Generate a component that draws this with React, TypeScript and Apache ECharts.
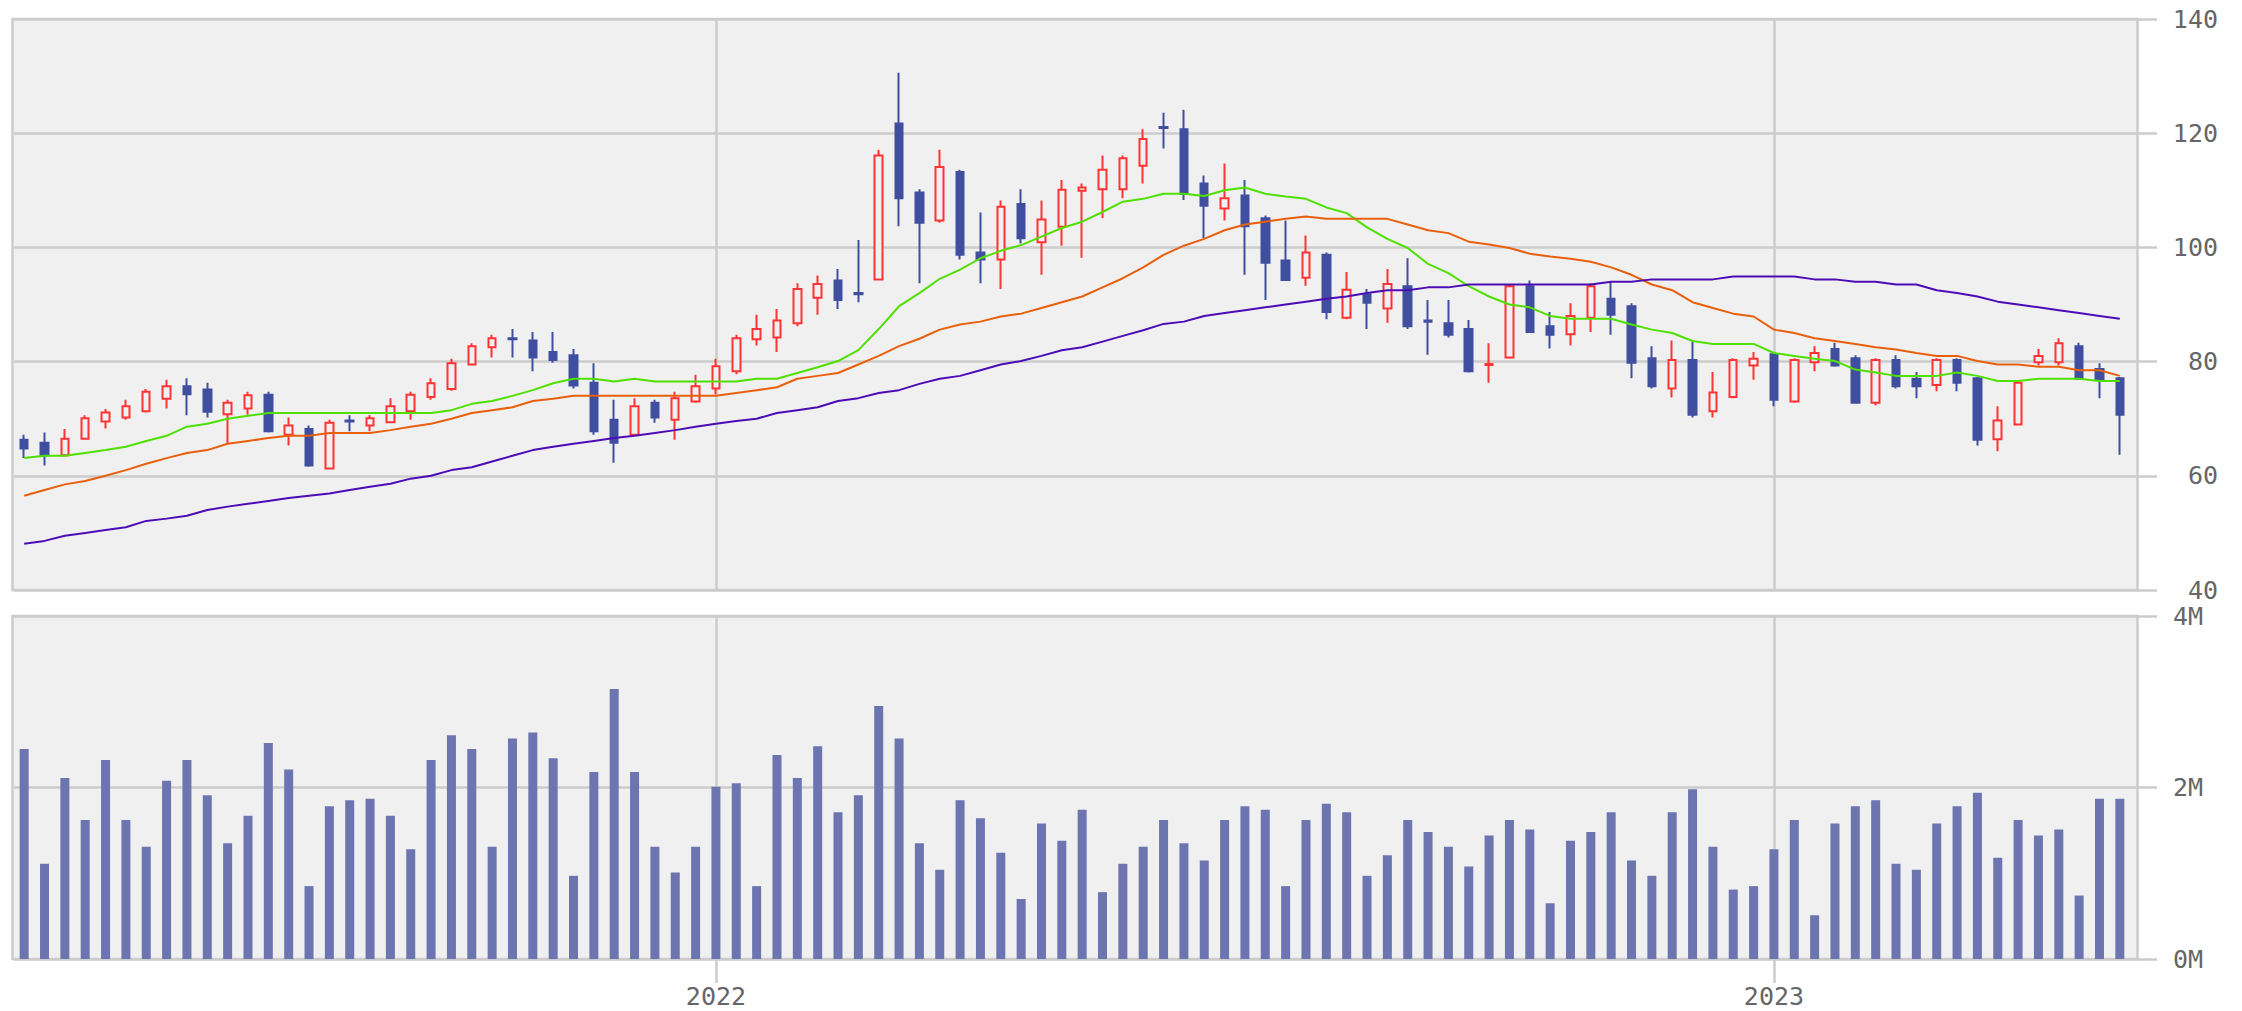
import React, { useEffect, useRef } from "react";
import * as echarts from "echarts";

// Weekly candles, 104 weeks starting 2021-05-10 (week of 2022-01-03 is index 34)
const START_MS = Date.UTC(2021, 4, 10);
const WEEK_MS = 7 * 24 * 3600 * 1000;
const weeks: string[] = Array.from({ length: 104 }, (_, i) =>
  new Date(START_MS + i * WEEK_MS).toISOString().slice(0, 10)
);
const yearMarks = ["2022-01-03", "2023-01-02"];

const opens = [
  66.3, 65.8, 63.6, 66.5, 69.5, 70.2, 71.3, 73.5, 75.7, 75.1,
  70.8, 71.8, 74.2, 67.2, 68.2, 61.3, 69.7, 68.8, 69.4, 71.3,
  73.8, 75.2, 79.5, 82.5, 84.1, 83.7, 81.7, 81.1, 76.3, 69.8,
  67.2, 72.8, 69.8, 73.0, 75.3, 78.3, 83.9, 84.2, 86.7, 91.2,
  94.2, 92.0, 94.4, 121.7, 109.6, 104.7, 113.2, 99.1, 97.9, 107.6,
  100.9, 103.6, 109.9, 110.2, 110.2, 114.3, 121.1, 120.7, 111.2, 106.8,
  109.1, 105.1, 97.7, 94.7, 98.7, 87.7, 91.8, 89.3, 93.2, 87.2,
  86.7, 85.7, 79.4, 80.7, 93.2, 86.2, 84.8, 87.7, 91.0, 89.7,
  80.6, 75.3, 80.3, 71.3, 73.8, 79.3, 81.3, 73.0, 79.9, 82.2,
  80.6, 72.8, 80.3, 77.0, 75.9, 80.3, 77.1, 66.4, 69.0, 79.9,
  79.9, 82.7, 78.7, 77.1,
];
const closes = [
  64.8, 63.6, 66.5, 70.1, 71.1, 72.2, 74.7, 75.7, 74.3, 71.2,
  72.8, 74.1, 67.8, 68.8, 61.8, 69.3, 69.5, 70.1, 72.2, 74.2,
  76.2, 79.7, 82.7, 84.1, 83.9, 80.7, 80.3, 75.8, 67.8, 65.8,
  72.2, 70.2, 73.6, 75.7, 79.2, 84.1, 85.7, 87.2, 92.7, 93.6,
  90.8, 91.8, 116.1, 108.6, 104.3, 114.1, 98.7, 97.9, 107.1, 101.6,
  104.9, 110.1, 110.5, 113.6, 115.6, 119.0, 120.9, 109.4, 107.3, 108.6,
  103.7, 97.3, 94.3, 99.1, 88.7, 92.6, 90.3, 93.6, 86.2, 87.0,
  84.7, 78.3, 79.6, 93.2, 85.2, 84.7, 88.0, 93.2, 88.2, 79.8,
  75.7, 80.3, 70.7, 74.6, 80.3, 80.5, 73.3, 80.3, 81.5, 79.3,
  72.8, 80.3, 75.7, 75.7, 80.3, 76.3, 66.3, 69.7, 76.3, 81.0,
  83.2, 77.0, 76.8, 70.7,
];
const lows = [
  63.1, 61.8, 63.4, 66.3, 68.3, 69.8, 71.1, 71.8, 70.6, 70.2,
  65.6, 70.7, 67.6, 65.3, 61.6, 61.1, 67.8, 67.8, 69.2, 69.8,
  73.3, 74.9, 79.3, 80.7, 80.7, 78.3, 79.8, 75.3, 67.2, 62.3,
  67.0, 69.3, 66.3, 72.8, 74.3, 77.8, 82.8, 81.7, 86.2, 88.2,
  89.2, 90.4, 94.2, 103.7, 93.7, 104.3, 97.9, 93.7, 92.7, 100.7,
  95.2, 100.3, 98.2, 105.1, 108.6, 111.2, 117.3, 108.3, 101.6, 104.7,
  95.2, 90.8, 94.1, 93.3, 87.4, 87.4, 85.7, 86.8, 85.7, 81.2,
  84.2, 78.1, 76.3, 80.5, 85.0, 82.3, 82.8, 85.2, 84.7, 77.1,
  75.3, 73.7, 70.2, 70.2, 73.6, 76.8, 72.2, 72.8, 78.3, 79.1,
  72.6, 72.3, 75.3, 73.6, 74.8, 74.8, 65.3, 64.3, 68.8, 79.3,
  79.3, 76.8, 73.6, 63.7,
];
const highs = [
  67.2, 67.6, 68.2, 70.6, 71.7, 73.3, 75.2, 76.8, 77.1, 76.3,
  73.3, 74.7, 74.7, 70.2, 68.8, 69.8, 70.6, 70.6, 73.6, 74.7,
  77.1, 80.5, 83.2, 84.7, 85.7, 85.2, 85.2, 82.2, 79.7, 73.3,
  73.6, 73.3, 74.7, 77.7, 80.5, 84.7, 88.2, 89.2, 93.7, 95.1,
  96.2, 101.3, 117.1, 130.6, 110.2, 117.1, 113.6, 106.1, 108.2, 110.2,
  108.2, 111.8, 111.2, 116.1, 116.1, 120.7, 123.6, 124.1, 112.6, 114.7,
  111.8, 105.6, 104.7, 102.1, 99.1, 95.7, 92.7, 96.2, 98.1, 90.8,
  90.8, 87.3, 83.2, 93.4, 94.2, 88.7, 90.2, 93.7, 94.0, 90.2,
  82.7, 83.7, 83.7, 78.2, 80.6, 81.7, 81.5, 80.6, 82.7, 83.3,
  81.1, 80.6, 81.1, 78.2, 80.6, 80.6, 77.3, 72.2, 76.5, 82.2,
  84.1, 83.3, 79.7, 77.3,
];

// Moving averages
const maShort = [
  63.1, 63.5, 63.5, 64.0, 64.5, 65.1, 66.1, 67.0, 68.6, 69.1,
  70.0, 70.5, 71.0, 71.0, 71.0, 71.0, 71.0, 71.0, 71.0, 71.0,
  71.0, 71.5, 72.6, 73.1, 74.0, 75.0, 76.2, 77.0, 77.0, 76.5,
  77.0, 76.5, 76.5, 76.5, 76.5, 76.5, 77.0, 77.0, 78.0, 79.0,
  80.1, 82.0, 85.7, 89.7, 92.0, 94.5, 96.1, 98.1, 99.4, 100.4,
  101.9, 103.4, 104.5, 106.2, 108.0, 108.5, 109.4, 109.4, 109.0, 110.0,
  110.5, 109.4, 108.9, 108.5, 107.0, 106.0, 103.5, 101.5, 99.9, 97.1,
  95.5, 93.2, 91.4, 90.0, 89.5, 88.0, 87.5, 87.5, 87.5, 86.5,
  85.6, 85.0, 83.6, 83.1, 83.1, 83.1, 81.5, 81.0, 80.5, 80.1,
  78.6, 78.1, 77.5, 77.5, 77.5, 78.1, 77.5, 76.6, 76.6, 77.0,
  77.0, 77.0, 76.6, 76.6,
];
const maMid = [
  56.5, 57.5, 58.5, 59.1, 60.0, 61.0, 62.1, 63.1, 64.0, 64.5,
  65.6, 66.1, 66.6, 67.0, 67.0, 67.5, 67.5, 67.5, 68.0, 68.6,
  69.1, 70.0, 71.0, 71.5, 72.0, 73.1, 73.5, 74.0, 74.0, 74.0,
  74.0, 74.0, 74.0, 74.0, 74.0, 74.5, 75.0, 75.5, 77.0, 77.5,
  78.0, 79.5, 81.0, 82.7, 84.0, 85.6, 86.5, 87.0, 87.9, 88.4,
  89.4, 90.4, 91.4, 93.0, 94.6, 96.5, 98.7, 100.3, 101.5, 103.0,
  104.0, 104.5, 105.0, 105.4, 105.0, 105.0, 105.0, 105.0, 104.0, 103.0,
  102.5, 101.0, 100.5, 99.9, 98.9, 98.4, 98.0, 97.5, 96.5, 95.2,
  93.5, 92.5, 90.4, 89.4, 88.4, 87.9, 85.6, 85.0, 84.1, 83.6,
  83.1, 82.5, 82.1, 81.5, 81.0, 81.0, 80.1, 79.5, 79.5, 79.1,
  79.1, 78.5, 78.5, 77.5,
];
const maLong = [
  48.1, 48.6, 49.5, 50.0, 50.5, 51.0, 52.1, 52.5, 53.0, 54.0,
  54.6, 55.1, 55.6, 56.1, 56.5, 56.9, 57.5, 58.1, 58.6, 59.5,
  60.0, 61.0, 61.5, 62.5, 63.5, 64.5, 65.1, 65.6, 66.1, 66.6,
  67.0, 67.5, 68.0, 68.6, 69.1, 69.6, 70.0, 71.0, 71.5, 72.0,
  73.1, 73.6, 74.5, 75.0, 76.1, 77.0, 77.5, 78.5, 79.5, 80.1,
  81.0, 82.0, 82.5, 83.5, 84.5, 85.5, 86.6, 87.0, 88.0, 88.5,
  89.0, 89.5, 90.0, 90.5, 91.0, 91.4, 92.0, 92.5, 92.5, 93.0,
  93.0, 93.5, 93.5, 93.5, 93.5, 93.5, 93.5, 93.5, 94.0, 94.0,
  94.4, 94.4, 94.4, 94.4, 94.9, 94.9, 94.9, 94.9, 94.4, 94.4,
  94.0, 94.0, 93.5, 93.5, 92.5, 92.0, 91.4, 90.5, 90.0, 89.5,
  89.0, 88.5, 88.0, 87.5,
];

// Weekly volume in millions
const volumes = [
  2.45, 1.11, 2.11, 1.62, 2.32, 1.62, 1.31, 2.08, 2.32, 1.91,
  1.35, 1.67, 2.52, 2.21, 0.85, 1.78, 1.85, 1.87, 1.67, 1.28,
  2.32, 2.61, 2.45, 1.31, 2.57, 2.64, 2.34, 0.97, 2.18, 3.15,
  2.18, 1.31, 1.01, 1.31, 2.01, 2.05, 0.85, 2.38, 2.11, 2.48,
  1.71, 1.91, 2.95, 2.57, 1.35, 1.04, 1.85, 1.64, 1.24, 0.70,
  1.58, 1.38, 1.74, 0.78, 1.11, 1.31, 1.62, 1.35, 1.15, 1.62,
  1.78, 1.74, 0.85, 1.62, 1.81, 1.71, 0.97, 1.21, 1.62, 1.48,
  1.31, 1.08, 1.44, 1.62, 1.51, 0.65, 1.38, 1.48, 1.71, 1.15,
  0.97, 1.71, 1.98, 1.31, 0.81, 0.85, 1.28, 1.62, 0.51, 1.58,
  1.78, 1.85, 1.11, 1.04, 1.58, 1.78, 1.94, 1.18, 1.62, 1.44,
  1.51, 0.74, 1.87, 1.87,
];

const FONT = "'DejaVu Sans Mono', 'Liberation Mono', monospace";
const GRID_COLOR = "#cccccc";
const TEXT_COLOR = "#666666";

export default function App() {
  const ref = useRef<HTMLDivElement>(null);

  useEffect(() => {
    if (!ref.current) return;
    const chart = echarts.init(ref.current, null, { renderer: "svg" });

    const candleData = opens.map((o, i) => [o, closes[i], lows[i], highs[i]]);
    const isYear = (_i: number, v: string) => yearMarks.indexOf(v) >= 0;

    const vLines = {
      silent: true,
      symbol: ["none", "none"],
      z: 1,
      label: { show: false },
      emphasis: { disabled: true },
      lineStyle: { color: GRID_COLOR, width: 2.5, type: "solid" },
      data: yearMarks.map((d) => ({ xAxis: d })),
    };

    const lineSeries = (data: number[], color: string) => ({
      type: "line",
      xAxisIndex: 0,
      yAxisIndex: 0,
      data,
      showSymbol: false,
      symbol: "none",
      silent: true,
      lineStyle: { color, width: 2 },
      z: 3,
    });

    const panelStyle = { fill: "#f0f0f0", stroke: GRID_COLOR, lineWidth: 2.5 };
    const labelBase = {
      color: TEXT_COLOR,
      fontFamily: FONT,
      fontSize: 25,
      lineHeight: 25,
    };

    chart.setOption({
      animation: false,
      backgroundColor: "#ffffff",
      graphic: [
        { type: "rect", z: -1, silent: true, shape: { x: 12.5, y: 19, width: 2125, height: 571 }, style: panelStyle },
        { type: "rect", z: -1, silent: true, shape: { x: 12.5, y: 616, width: 2125, height: 343 }, style: panelStyle },
      ],
      grid: [
        { left: 14, top: 19, width: 2116, height: 571 },
        { left: 14, top: 616, width: 2116, height: 343 },
      ],
      xAxis: [
        {
          type: "category",
          gridIndex: 0,
          data: weeks,
          axisLine: { show: false },
          axisTick: { show: false },
          axisLabel: { show: false },
          splitLine: { show: false },
        },
        {
          type: "category",
          gridIndex: 1,
          data: weeks,
          axisLine: { show: false },
          axisTick: {
            show: true,
            alignWithLabel: true,
            interval: isYear,
            length: 24,
            lineStyle: { color: GRID_COLOR, width: 2.5 },
          },
          axisLabel: {
            ...labelBase,
            interval: isYear,
            formatter: (v: string) => v.slice(0, 4),
            margin: 25,
          },
          splitLine: { show: false },
        },
      ],
      yAxis: [
        {
          type: "value",
          gridIndex: 0,
          position: "right",
          min: 40,
          max: 140,
          interval: 20,
          axisLine: { show: false },
          axisTick: { show: true, length: 27, lineStyle: { color: GRID_COLOR, width: 2.5 } },
          splitLine: { show: true, lineStyle: { color: GRID_COLOR, width: 2.5 } },
          axisLabel: { ...labelBase, margin: 88, align: "right" },
        },
        {
          type: "value",
          gridIndex: 1,
          position: "right",
          min: 0,
          max: 4,
          interval: 2,
          axisLine: { show: false },
          axisTick: { show: true, length: 27, lineStyle: { color: GRID_COLOR, width: 2.5 } },
          splitLine: { show: true, lineStyle: { color: GRID_COLOR, width: 2.5 } },
          axisLabel: {
            ...labelBase,
            margin: 73,
            align: "right",
            formatter: (v: number) => `${v}M`,
          },
        },
      ],
      series: [
        {
          type: "candlestick",
          xAxisIndex: 0,
          yAxisIndex: 0,
          data: candleData,
          barWidth: 8,
          silent: true,
          itemStyle: {
            color: "#f0f0f0",
            color0: "#404ea0",
            borderColor: "#ff3333",
            borderColor0: "#404ea0",
            borderWidth: 2,
          },
          markLine: vLines,
        },
        lineSeries(maShort, "#4fe000"),
        lineSeries(maMid, "#e8600c"),
        lineSeries(maLong, "#4b0cb6"),
        {
          type: "bar",
          xAxisIndex: 1,
          yAxisIndex: 1,
          data: volumes,
          barWidth: 9,
          silent: true,
          itemStyle: { color: "#6c75b0" },
          markLine: vLines,
        },
      ],
    });

    return () => chart.dispose();
  }, []);

  return (
    <div
      ref={ref}
      style={{ position: "fixed", left: 0, top: 0, width: 2242, height: 1011 }}
    />
  );
}
